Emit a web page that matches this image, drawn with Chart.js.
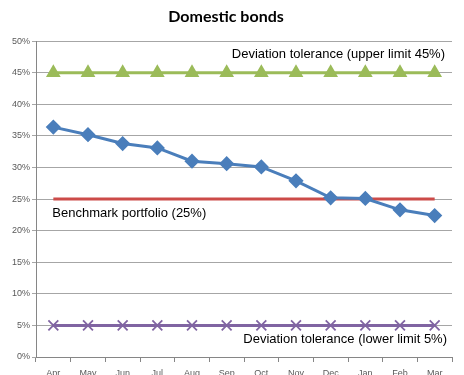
<!DOCTYPE html>
<html>
<head>
<meta charset="utf-8">
<script src="https://cdn.jsdelivr.net/npm/chart.js@4/dist/chart.umd.min.js"></script>
<style>
  html, body { margin: 0; padding: 0; background: #fff; overflow: hidden; }
  #wrap { width: 464px; height: 386px; }
</style>
</head>
<body>
<div id="wrap"><canvas id="bonds"></canvas></div>
<script>
var months = ['Apr', 'May', 'Jun', 'Jul', 'Aug', 'Sep', 'Oct', 'Nov', 'Dec', 'Jan', 'Feb', 'Mar'];
var actual = [36.4, 35.2, 33.8, 33.1, 31.0, 30.6, 30.1, 27.9, 25.2, 25.1, 23.3, 22.4];
var benchmark = [25, 25, 25, 25, 25, 25, 25, 25, 25, 25, 25, 25];
var upperLimit = [45, 45, 45, 45, 45, 45, 45, 45, 45, 45, 45, 45];
var lowerLimit = [5, 5, 5, 5, 5, 5, 5, 5, 5, 5, 5, 5];

var FONT = '"Liberation Sans", Arial, sans-serif';

// labels written straight onto the plot next to the lines
var lineLabels = {
    id: 'lineLabels',
    afterDatasetsDraw: function(chart) {
        var ctx = chart.ctx;
        var y = chart.scales.y;
        var area = chart.chartArea;
        var x = chart.scales.x;
        ctx.save();
        ctx.font = '13px ' + FONT;
        ctx.fillStyle = '#000';
        ctx.textBaseline = 'middle';
        ctx.textAlign = 'right';
        ctx.fillText('Deviation tolerance (upper limit 45%)', area.right - 7, y.getPixelForValue(45) - 18);
        ctx.fillText('Deviation tolerance (lower limit 5%)', area.right - 5, y.getPixelForValue(5) + 14);
        ctx.textAlign = 'left';
        ctx.fillText('Benchmark portfolio (25%)', x.getPixelForValue(0) - 1, y.getPixelForValue(25) + 14);
        ctx.restore();
    }
};

new Chart(document.getElementById('bonds').getContext('2d'), {
    type: 'line',
    data: {
        labels: months,
        datasets: [
            { label: 'Domestic bonds', data: actual, borderColor: '#4a7ebb', backgroundColor: '#4a7ebb',
              borderWidth: 3, pointStyle: 'rectRot', pointRadius: 5.5, fill: false },
            { label: 'Benchmark portfolio', data: benchmark, borderColor: '#cc4b48', borderWidth: 3,
              pointRadius: 0, fill: false },
            { label: 'Upper limit', data: upperLimit, borderColor: '#9bbb59', backgroundColor: '#9bbb59',
              borderWidth: 3, pointStyle: 'triangle', pointRadius: 5.5, fill: false },
            { label: 'Lower limit', data: lowerLimit, borderColor: '#8064a2', backgroundColor: '#8064a2',
              borderWidth: 3, pointStyle: 'crossRot', pointRadius: 7, pointBorderWidth: 1.8, fill: false }
        ]
    },
    options: {
        responsive: true,
        maintainAspectRatio: false,
        animation: false,
        layout: { padding: { top: 0, right: 12, left: 0, bottom: 0 } },
        plugins: {
            legend: { display: false },
            tooltip: { enabled: false },
            title: {
                display: true,
                text: 'Domestic bonds',
                color: '#000',
                font: { family: 'Lato, "Open Sans", sans-serif', size: 16, weight: 'bold' },
                padding: { top: 7, bottom: 15 }
            }
        },
        scales: {
            x: {
                offset: true,
                grid: { display: true, drawOnChartArea: false, offset: true, tickLength: 5, color: '#868686' },
                border: { color: '#868686' },
                ticks: { color: '#595959', font: { family: FONT, size: 9 }, padding: 6, maxRotation: 0, autoSkip: false },
                afterFit: function(s) { s.height = 29; }
            },
            y: {
                min: 0,
                max: 50,
                grid: { color: '#a6a6a6', tickLength: 4 },
                border: { color: '#868686' },
                ticks: {
                    stepSize: 5,
                    color: '#595959',
                    font: { family: FONT, size: 9 },
                    padding: 2,
                    callback: function(v) { return v + '%'; }
                },
                afterFit: function(s) { s.width = 36; }
            }
        }
    },
    plugins: [lineLabels]
});
</script>
</body>
</html>
